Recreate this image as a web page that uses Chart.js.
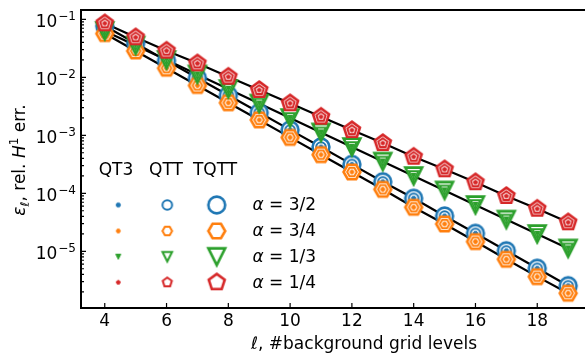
<!DOCTYPE html>
<html>
<head>
<meta charset="utf-8">
<script src="https://cdn.jsdelivr.net/npm/chart.js@4.4.0/dist/chart.umd.min.js"></script>
<style>
    html, body { margin: 0; padding: 0; background: #fff; }
    #wrap { width: 588px; height: 354px; }
</style>
</head>
<body>
<div id="wrap"><canvas id="errChart" width="588" height="354"></canvas></div>
<script>
// background grid levels (x axis)
const levels = [4, 5, 6, 7, 8, 9, 10, 11, 12, 13, 14, 15, 16, 17, 18, 19];

// relative H1 error per alpha
const errAlpha32 = [0.0766, 0.0386, 0.0194, 0.00973, 0.00491, 0.00247, 0.00124, 6.28e-4, 3.15e-4, 1.58e-4, 8.2e-5, 4.06e-5, 2.04e-5, 1.02e-5, 5.09e-6, 2.55e-6];
const errAlpha34 = [0.0567, 0.0284, 0.01435, 0.00722, 0.00363, 0.00184, 9.2e-4, 4.63e-4, 2.33e-4, 1.17e-4, 5.74e-5, 2.96e-5, 1.47e-5, 7.28e-6, 3.65e-6, 1.89e-6];
const errAlpha13 = [0.0629, 0.0353, 0.0199, 0.0112, 0.00629, 0.00353, 0.00199, 0.00112, 6.29e-4, 3.53e-4, 1.99e-4, 1.12e-4, 6.29e-5, 3.53e-5, 1.99e-5, 1.12e-5];
const errAlpha14 = [0.0853, 0.049, 0.0288, 0.0174, 0.01023, 0.00604, 0.00356, 0.00209, 0.00123, 7.36e-4, 4.27e-4, 2.59e-4, 1.55e-4, 8.98e-5, 5.42e-5, 3.16e-5];

const alphaLabels = ['3/2', '3/4', '1/3', '1/4'];
const methodNames = ['QT3', 'QTT', 'TQTT'];
const xTicks = [4, 6, 8, 10, 12, 14, 16, 18];
const yTickExps = [-5, -4, -3, -2, -1];

const FONT = '"DejaVu Sans"';
const FS = 17;
const colors = ['#1f77b4', '#ff7f0e', '#2ca02c', '#d62728'];
const shapes = ['circle', 'hexagon', 'triangleDown', 'pentagon'];
const allErrors = [errAlpha32, errAlpha34, errAlpha13, errAlpha14];

// marker look per method: QT3 dot, QTT small, TQTT large
const markerSpec = [
    { r: 2.1, lw: 1, filled: true },
    { r: 4.8, lw: 2, filled: false },
    { r: 8.4, lw: 2.6, filled: false }
];

function polygon(n, r, start) {
    const pts = [];
    for (let i = 0; i < n; i++) {
        const a = start + i * 2 * Math.PI / n;
        pts.push([r * Math.cos(a), r * Math.sin(a)]);
    }
    return pts;
}

// draw one marker shape into a small canvas, used as pointStyle
function makeMarker(shape, spec, color) {
    const r = shape === 'triangleDown' && spec.filled ? spec.r * 1.2 : spec.r;
    const size = Math.ceil(2 * (r + spec.lw) + 8);
    const c = document.createElement('canvas');
    c.width = size;
    c.height = size;
    const g = c.getContext('2d');
    g.translate(size / 2, size / 2);
    g.beginPath();
    if (shape === 'circle') {
        g.arc(0, 0, r, 0, Math.PI * 2);
    } else {
        let pts;
        if (shape === 'hexagon') pts = polygon(6, r, 0);
        else if (shape === 'pentagon') pts = polygon(5, r, -Math.PI / 2);
        else pts = [[0, r], [-r, -r], [r, -r]];
        g.moveTo(pts[0][0], pts[0][1]);
        for (let i = 1; i < pts.length; i++) g.lineTo(pts[i][0], pts[i][1]);
    }
    g.closePath();
    g.fillStyle = spec.filled ? color : '#fff';
    g.fill();
    g.lineJoin = 'miter';
    g.lineWidth = spec.lw;
    g.strokeStyle = color;
    g.stroke();
    return c;
}

const markers = colors.map((col, a) => markerSpec.map(spec => makeMarker(shapes[a], spec, col)));

const datasets = [];
// black connecting lines, drawn underneath
allErrors.forEach(errs => {
    datasets.push({
        data: levels.map((l, i) => ({ x: l, y: errs[i] })),
        borderColor: '#000',
        borderWidth: 2.2,
        pointRadius: 0,
        fill: false,
        order: 100
    });
});
// markers: per alpha, large first, then small, then dot
let seq = 0;
allErrors.forEach((errs, a) => {
    [2, 1, 0].forEach(m => {
        datasets.push({
            label: methodNames[m] + ' ' + alphaLabels[a],
            data: levels.map((l, i) => ({ x: l, y: errs[i] })),
            showLine: false,
            pointStyle: markers[a][m],
            pointRadius: 3,
            clip: false,
            order: 50 - seq
        });
        seq++;
    });
});

function drawParts(ctx, parts, x, y) {
    parts.forEach(p => {
        ctx.font = p.f;
        ctx.fillText(p.t, x, y + (p.dy || 0));
        x += ctx.measureText(p.t).width + (p.gap || 0);
    });
}

function partsWidth(ctx, parts) {
    let w = 0;
    parts.forEach(p => {
        ctx.font = p.f;
        w += ctx.measureText(p.t).width + (p.gap || 0);
    });
    return w;
}

const framePlugin = {
    id: 'frame',
    afterDraw(chart) {
        const ctx = chart.ctx;
        const area = chart.chartArea;
        const xs = chart.scales.x;
        const ys = chart.scales.y;
        const big = FS + 'px ' + FONT;
        const small = Math.round(FS * 0.7) + 'px ' + FONT;
        ctx.save();
        ctx.fillStyle = '#000';
        ctx.strokeStyle = '#000';

        // spines
        ctx.lineWidth = 2;
        ctx.beginPath();
        ctx.moveTo(area.left, area.top);
        ctx.lineTo(area.left, area.bottom);
        ctx.moveTo(area.left - 1, area.bottom);
        ctx.lineTo(area.right + 2, area.bottom);
        ctx.moveTo(area.left - 1, area.top);
        ctx.lineTo(area.right + 2, area.top);
        ctx.stroke();

        // inward ticks
        ctx.lineWidth = 1.2;
        ctx.beginPath();
        xTicks.forEach(v => {
            const px = xs.getPixelForValue(v);
            ctx.moveTo(px, area.bottom);
            ctx.lineTo(px, area.bottom - 5);
        });
        for (let e = -7; e <= 0; e++) {
            for (let m = 1; m <= 9; m++) {
                const v = m * Math.pow(10, e);
                if (v < ys.min || v > ys.max) continue;
                const py = ys.getPixelForValue(v);
                ctx.moveTo(area.left, py);
                ctx.lineTo(area.left + (m === 1 ? 5 : 3), py);
            }
        }
        ctx.stroke();

        // x tick labels
        ctx.textAlign = 'center';
        ctx.textBaseline = 'alphabetic';
        ctx.font = big;
        xTicks.forEach(v => {
            ctx.fillText(String(v), xs.getPixelForValue(v), 326);
        });

        // y tick labels 10^k
        ctx.textAlign = 'left';
        yTickExps.forEach(k => {
            const py = ys.getPixelForValue(Math.pow(10, k));
            const parts = [
                { t: '10', f: big, gap: 1 },
                { t: '\u2212' + Math.abs(k), f: small, dy: -7 }
            ];
            const w = partsWidth(ctx, parts);
            drawParts(ctx, parts, 76 - w, py + 7.5);
        });

        // x title
        const xt = [
            { t: '\u2113', f: 'italic ' + big },
            { t: ', #background grid levels', f: big }
        ];
        drawParts(ctx, xt, 364 - partsWidth(ctx, xt) / 2, 348.5);

        // y title, rotated
        const yt = [
            { t: '\u03b5', f: 'italic ' + big },
            { t: '\u2113', f: 'italic ' + small, dy: 3.5 },
            { t: ', rel. ', f: big },
            { t: 'H', f: 'italic ' + big },
            { t: '1', f: small, dy: -7 },
            { t: ' err.', f: big }
        ];
        ctx.save();
        ctx.translate(25, 160);
        ctx.rotate(-Math.PI / 2);
        drawParts(ctx, yt, -partsWidth(ctx, yt) / 2, 0);
        ctx.restore();

        // legend table
        const headX = [116, 166, 215];
        const markX = [118.3, 167.3, 216.7];
        const rowY = [205, 231, 256.7, 282.3];
        ctx.font = big;
        ctx.textAlign = 'center';
        ctx.textBaseline = 'middle';
        methodNames.forEach((name, m) => ctx.fillText(name, headX[m], 171));
        rowY.forEach((y, a) => {
            markX.forEach((x, m) => {
                const img = markers[a][m];
                ctx.drawImage(img, x - img.width / 2, y - img.height / 2);
            });
            ctx.textAlign = 'left';
            drawParts(ctx, [
                { t: '\u03b1', f: 'italic ' + big },
                { t: ' = ' + alphaLabels[a], f: big }
            ], 252.5, y + 1);
        });
        ctx.restore();
    }
};

new Chart(document.getElementById('errChart'), {
    type: 'line',
    data: { datasets: datasets },
    options: {
        responsive: false,
        animation: false,
        events: [],
        devicePixelRatio: 1,
        layout: { padding: { left: 0, top: 10, right: 0, bottom: 0 } },
        plugins: { legend: { display: false }, tooltip: { enabled: false } },
        scales: {
            x: {
                type: 'linear',
                min: 3.231,
                max: 19.481,
                grid: { display: false },
                border: { display: false },
                ticks: { display: false },
                afterBuildTicks: s => { s.ticks = xTicks.map(v => ({ value: v })); },
                afterFit: s => { s.height = 46; }
            },
            y: {
                type: 'logarithmic',
                min: 1.052e-6,
                max: 0.1446,
                grid: { display: false },
                border: { display: false },
                ticks: { display: false },
                afterBuildTicks: s => { s.ticks = yTickExps.map(k => ({ value: Math.pow(10, k) })); },
                afterFit: s => { s.width = 81; }
            }
        }
    },
    plugins: [framePlugin]
});
</script>
</body>
</html>
